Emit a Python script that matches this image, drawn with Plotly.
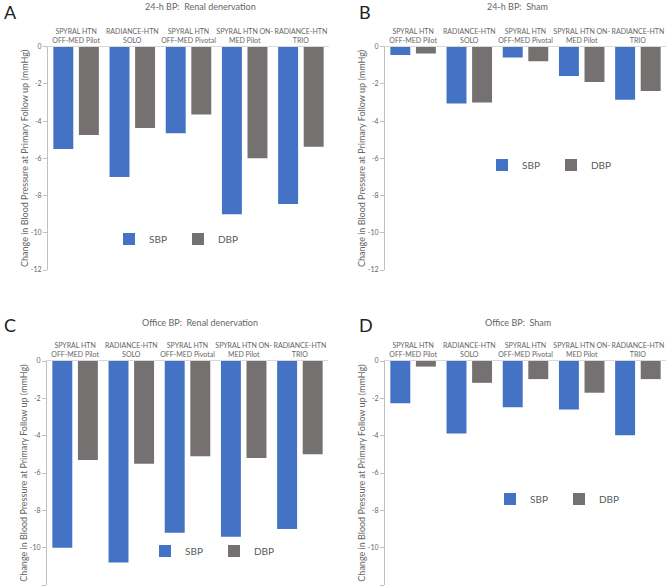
import plotly.graph_objects as go

categories = ["SPYRAL HTN OFF-MED Pilot", "RADIANCE-HTN SOLO", "SPYRAL HTN OFF-MED Pivotal",
              "SPYRAL HTN ON-MED Pilot", "RADIANCE-HTN TRIO"]
tick_labels = ["SPYRAL HTN<br>OFF-MED Pilot", "RADIANCE-HTN<br>SOLO", "SPYRAL HTN<br>OFF-MED Pivotal",
               "SPYRAL HTN ON-<br>MED Pilot", "RADIANCE-HTN<br>TRIO"]

# 24-h BP: Renal denervation
a_sbp = [-5.5, -7.0, -4.65, -9.0, -8.45]
a_dbp = [-4.75, -4.37, -3.65, -6.0, -5.38]
# 24-h BP: Sham
b_sbp = [-0.45, -3.05, -0.58, -1.58, -2.85]
b_dbp = [-0.37, -3.0, -0.78, -1.9, -2.38]
# Office BP: Renal denervation
c_sbp = [-10.0, -10.8, -9.2, -9.42, -9.0]
c_dbp = [-5.3, -5.5, -5.1, -5.2, -5.0]
# Office BP: Sham
d_sbp = [-2.27, -3.88, -2.48, -2.6, -3.98]
d_dbp = [-0.3, -1.17, -0.97, -1.7, -0.97]

y_tickvals = [0, -2, -4, -6, -8, -10, -12]
y_ticktext = ["0", "-2", "-4", "-6", "-8", "-10", "-12"]

panel_titles = ["24-h BP:  Renal denervation", "24-h BP:  Sham",
                "Office BP:  Renal denervation", "Office BP:  Sham"]
panel_letters = ["A", "B", "C", "D"]
series_names = ["SBP", "DBP"]

SBP_COLOR = "#4472C4"
DBP_COLOR = "#767171"
TXT = "#666666"
FONT = "Lato, Liberation Sans, sans-serif"

W, H = 669, 588

def px(x):
    return x / W

def py(y):
    return 1 - y / H

panels = [
    (a_sbp, a_dbp, (48, 329), (46.7, 270)),
    (b_sbp, b_dbp, (385, 666), (46.7, 270)),
    (c_sbp, c_dbp, (47, 328), (361, 585)),
    (d_sbp, d_dbp, (385, 666), (361, 585)),
]
legend_pos = [(109, 239), (482, 165), (145, 551), (490, 499)]
title_pos = [(200, 7), (517, 7), (200, 322), (518, 322)]
letter_pos = [(2, 12), (357, 12), (2, 325), (357, 325)]

fig = go.Figure()
layout = dict(
    width=W, height=H,
    margin=dict(l=0, r=0, t=0, b=0, autoexpand=False),
    paper_bgcolor="white", plot_bgcolor="white",
    barmode="group", bargap=0.09, bargroupgap=0.22,
    font=dict(family=FONT, color=TXT),
    showlegend=True,
)
annotations = []

for i, (sbp, dbp, (x0, x1), (y0, y1)) in enumerate(panels):
    n = "" if i == 0 else str(i + 1)
    lg = "legend" if i == 0 else "legend" + str(i + 1)
    for name, vals, col in [(series_names[0], sbp, SBP_COLOR), (series_names[1], dbp, DBP_COLOR)]:
        fig.add_trace(go.Bar(x=categories, y=vals, name=name, marker_color=col,
                             marker_line_width=0, xaxis="x" + n, yaxis="y" + n,
                             legend=lg, hoverinfo="x+y+name"))
    layout["xaxis" + n] = dict(
        domain=[px(x0), px(x1)], anchor="y" + n, side="top", type="category",
        tickvals=categories, ticktext=tick_labels, ticks="", showgrid=False,
        showline=True, linecolor="#D9D9D9", linewidth=1, zeroline=False,
        tickangle=0, automargin=False,
        tickfont=dict(size=7, color=TXT, family=FONT),
    )
    layout["yaxis" + n] = dict(
        domain=[py(y1), py(y0)], anchor="x" + n, range=[-12, 0],
        tickvals=y_tickvals, ticktext=y_ticktext, ticks="outside", ticklen=4,
        tickcolor="#BFBFBF", showgrid=False, zeroline=False, showline=True,
        linecolor="#BFBFBF", linewidth=1, tickfont=dict(size=7, color=TXT),
        automargin=False,
        title=dict(text="Change in Blood Pressure at Primary Follow up (mmHg)",
                   font=dict(size=9, color=TXT), standoff=0),
    )
    lx, ly = legend_pos[i]
    layout[lg] = dict(
        x=px(lx), y=py(ly), xanchor="left", yanchor="middle", orientation="h",
        font=dict(size=10, color="#595959"), bgcolor="rgba(0,0,0,0)",
        itemwidth=30, tracegroupgap=0, entrywidth=24, entrywidthmode="pixels",
    )
    tx, ty = title_pos[i]
    annotations.append(dict(text=panel_titles[i], x=px(tx), y=py(ty), xref="paper", yref="paper",
                            showarrow=False, xanchor="center", yanchor="middle",
                            font=dict(size=9, color=TXT)))
    ax, ay = letter_pos[i]
    annotations.append(dict(text=panel_letters[i], x=px(ax), y=py(ay), xref="paper", yref="paper",
                            showarrow=False, xanchor="left", yanchor="middle",
                            font=dict(size=18, color="#222222")))

layout["annotations"] = annotations
fig.update_layout(**layout)
fig.write_html("out.html", config={"displayModeBar": False},
               post_script="document.body.style.margin='0';document.body.style.overflow='hidden';")
